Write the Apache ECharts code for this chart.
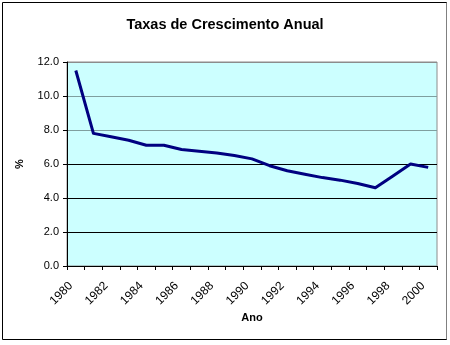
<!DOCTYPE html>
<html>
<head>
<meta charset="utf-8">
<script src="https://cdn.jsdelivr.net/npm/echarts@6/dist/echarts.min.js"></script>
<style>
  html, body { margin: 0; padding: 0; background: #fff; }
  #chart { width: 450px; height: 345px; }
</style>
</head>
<body>
<div id="chart"></div>
<script>
// Annual growth rate, 1980-2000
const years = ['1980','1981','1982','1983','1984','1985','1986','1987','1988','1989','1990',
               '1991','1992','1993','1994','1995','1996','1997','1998','1999','2000'];
const growthRate = [11.5, 7.8, 7.6, 7.4, 7.1, 7.1, 6.85, 6.75, 6.65, 6.5, 6.3,
                    5.9, 5.6, 5.4, 5.2, 5.05, 4.85, 4.6, 5.3, 6.0, 5.8];
const yTicks = [0, 2, 4, 6, 8, 10, 12];

const chart = echarts.init(document.getElementById('chart'), null, { renderer: 'canvas' });
const font = 'Liberation Sans, Arial, sans-serif';

chart.setOption({
  animation: false,
  backgroundColor: '#ffffff',
  title: {
    text: 'Taxas de Crescimento Anual',
    left: 'center',
    top: 12,
    textStyle: { fontFamily: font, fontSize: 14.5, fontWeight: 'bold', color: '#000' }
  },
  grid: {
    left: 67, right: 13, top: 62, bottom: 79,
    show: true,
    backgroundColor: '#ccffff',
    borderColor: '#8c8c8c',
    borderWidth: 1
  },
  xAxis: {
    type: 'category',
    data: years,
    boundaryGap: true,
    name: 'Ano',
    nameLocation: 'middle',
    nameGap: 46,
    nameMoveOverlap: false,
    nameTextStyle: { fontFamily: font, fontSize: 11, fontWeight: 'bold', color: '#000' },
    axisLine: { lineStyle: { color: '#000', width: 1 } },
    axisTick: { show: true, interval: 0, length: 4, lineStyle: { color: '#000' } },
    axisLabel: {
      interval: 1,
      rotate: 45,
      margin: 13,
      padding: [0, 7, 0, 0],
      fontFamily: font,
      fontSize: 12,
      color: '#000'
    },
    splitLine: { show: false }
  },
  yAxis: {
    type: 'value',
    min: yTicks[0],
    max: yTicks[yTicks.length - 1],
    interval: 2,
    name: '%',
    nameLocation: 'middle',
    nameGap: 42,
    nameRotate: 90,
    nameTextStyle: { fontFamily: font, fontSize: 11, fontWeight: 'bold', color: '#000' },
    axisLine: { show: true, lineStyle: { color: '#000', width: 1 } },
    axisTick: { show: true, length: 4, lineStyle: { color: '#000' } },
    axisLabel: {
      margin: 8,
      fontFamily: font,
      fontSize: 11,
      color: '#000',
      formatter: v => v.toFixed(1)
    },
    splitLine: {
      show: true,
      lineStyle: {
        color: ['#000', '#000', '#000', '#000', '#7f9f9f', '#7f9f9f', '#8c8c8c'],
        width: 1
      }
    }
  },
  graphic: [
    {
      type: 'rect',
      shape: { x: 2.5, y: 2.5, width: 444, height: 337 },
      style: { fill: null, stroke: '#000', lineWidth: 1 },
      z: 100
    },
    {
      type: 'line',
      shape: { x1: 446.5, y1: 3, x2: 446.5, y2: 339 },
      style: { stroke: '#808080', lineWidth: 1 },
      z: 101
    }
  ],
  series: [{
    type: 'line',
    data: growthRate,
    showSymbol: false,
    symbol: 'none',
    lineStyle: { color: '#000080', width: 3, join: 'round' },
    z: 5
  }]
});
</script>
</body>
</html>
